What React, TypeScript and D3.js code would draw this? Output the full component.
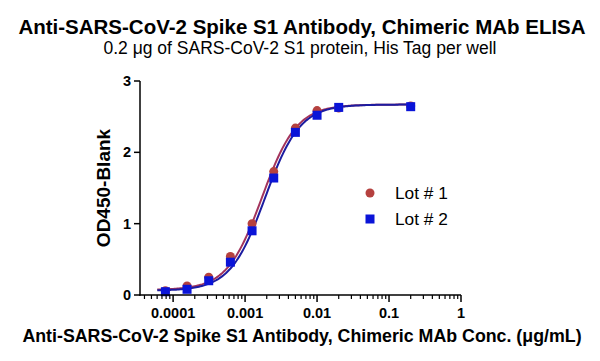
import React from "react";
import * as d3 from "d3";

const concentrations = [0.000078125, 0.00015625, 0.0003125, 0.000625, 0.00125, 0.0025, 0.005, 0.01, 0.02, 0.2];
const lot1Values = [0.06, 0.126, 0.25, 0.54, 1.0, 1.73, 2.34, 2.585, 2.62, 2.65];
const lot2Values = [0.046, 0.08, 0.2, 0.46, 0.9, 1.64, 2.28, 2.52, 2.63, 2.64];
// 4PL fit parameters [bottom, top, EC50, hill]
const lot1Fit = [0.07, 2.67, 0.00172, 1.8];
const lot2Fit = [0.06, 2.67, 0.0019, 1.8];
const xTicks = [0.0001, 0.001, 0.01, 0.1, 1];
const xTickLabels = ["0.0001", "0.001", "0.01", "0.1", "1"];
const yTicks = [0, 1, 2, 3];
const seriesNames = ["Lot # 1", "Lot # 2"];

const W = 600, H = 361;
const FONT = "'Liberation Sans', Arial, sans-serif";

export default function App() {
  const x = d3.scaleLog().domain([Math.pow(10, -4.46), 1]).range([140, 461]);
  const y = d3.scaleLinear().domain([0, 3]).range([295, 81]);

  const fit = (p: number[]) => (c: number) => p[0] + (p[1] - p[0]) / (1 + Math.pow(p[2] / c, p[3]));
  const curveXs = d3.range(-4.22, Math.log10(0.2) + 0.0001, 0.02).map((e) => Math.pow(10, e));
  const makePath = (p: number[]) => {
    const f = fit(p);
    return d3.line<number>().x((c) => x(c)).y((c) => y(f(c)))(curveXs) || "";
  };

  const minorTicks: number[] = [];
  for (let e = -5; e <= 0; e++) {
    for (let m = 2; m < 10; m++) {
      const v = m * Math.pow(10, e);
      if (v >= Math.pow(10, -4.46) && v <= 1.0001) minorTicks.push(v);
    }
  }

  const red = "#b5413f";
  const blue = "#0a14d8";
  const redLine = "#a3345c";
  const blueLine = "#1c1ca0";

  return (
    <svg width={W} height={H} style={{ position: "absolute", left: 0, top: 0, background: "#fff" }} fontFamily={FONT}>
      <rect width={W} height={H} fill="#fff" />
      <text x={302} y={34} textAnchor="middle" fontSize={20.5} fontWeight="bold">Anti-SARS-CoV-2 Spike S1 Antibody, Chimeric MAb ELISA</text>
      <text x={300} y={54} textAnchor="middle" fontSize={17.5}>0.2 μg of SARS-CoV-2 S1 protein, His Tag per well</text>

      {/* curves */}
      <path d={makePath(lot1Fit)} fill="none" stroke={redLine} strokeWidth={2} />
      <path d={makePath(lot2Fit)} fill="none" stroke={blueLine} strokeWidth={2} />

      {/* points */}
      {concentrations.map((c, i) => (
        <circle key={"r" + i} cx={x(c)} cy={y(lot1Values[i])} r={4.5} fill={red} />
      ))}
      {concentrations.map((c, i) => (
        <rect key={"b" + i} x={x(c) - 4.5} y={y(lot2Values[i]) - 4.5} width={9} height={9} fill={blue} />
      ))}

      {/* y axis */}
      <line x1={140} x2={140} y1={y(3)} y2={y(0) + 0.75} stroke="#000" strokeWidth={1.5} />
      {yTicks.map((t) => (
        <g key={t}>
          <line x1={134} x2={140} y1={y(t)} y2={y(t)} stroke="#000" strokeWidth={1.5} />
          <text x={131} y={y(t) + 5} textAnchor="end" fontSize={14.5} fontWeight="bold">{t}</text>
        </g>
      ))}
      <text transform={`translate(110,${y(1.5)}) rotate(-90)`} textAnchor="middle" fontSize={19} fontWeight="bold">OD450-Blank</text>

      {/* x axis */}
      <line x1={139.25} x2={461} y1={295} y2={295} stroke="#000" strokeWidth={1.5} />
      {minorTicks.map((t, i) => (
        <line key={"m" + i} x1={x(t)} x2={x(t)} y1={295} y2={299} stroke="#000" strokeWidth={1.2} />
      ))}
      {xTicks.map((t, i) => (
        <g key={"t" + i}>
          <line x1={x(t)} x2={x(t)} y1={295} y2={302} stroke="#000" strokeWidth={1.5} />
          <text x={x(t)} y={318} textAnchor="middle" fontSize={14.5} fontWeight="bold">{xTickLabels[i]}</text>
        </g>
      ))}
      <text x={302} y={342} textAnchor="middle" fontSize={17.8} fontWeight="bold">Anti-SARS-CoV-2 Spike S1 Antibody, Chimeric MAb Conc. (μg/mL)</text>

      {/* legend */}
      <circle cx={370} cy={193} r={4.5} fill={red} />
      <text x={395} y={199} fontSize={17.3}>{seriesNames[0]}</text>
      <rect x={365.5} y={214.5} width={9} height={9} fill={blue} />
      <text x={395} y={225} fontSize={17.3}>{seriesNames[1]}</text>
    </svg>
  );
}
